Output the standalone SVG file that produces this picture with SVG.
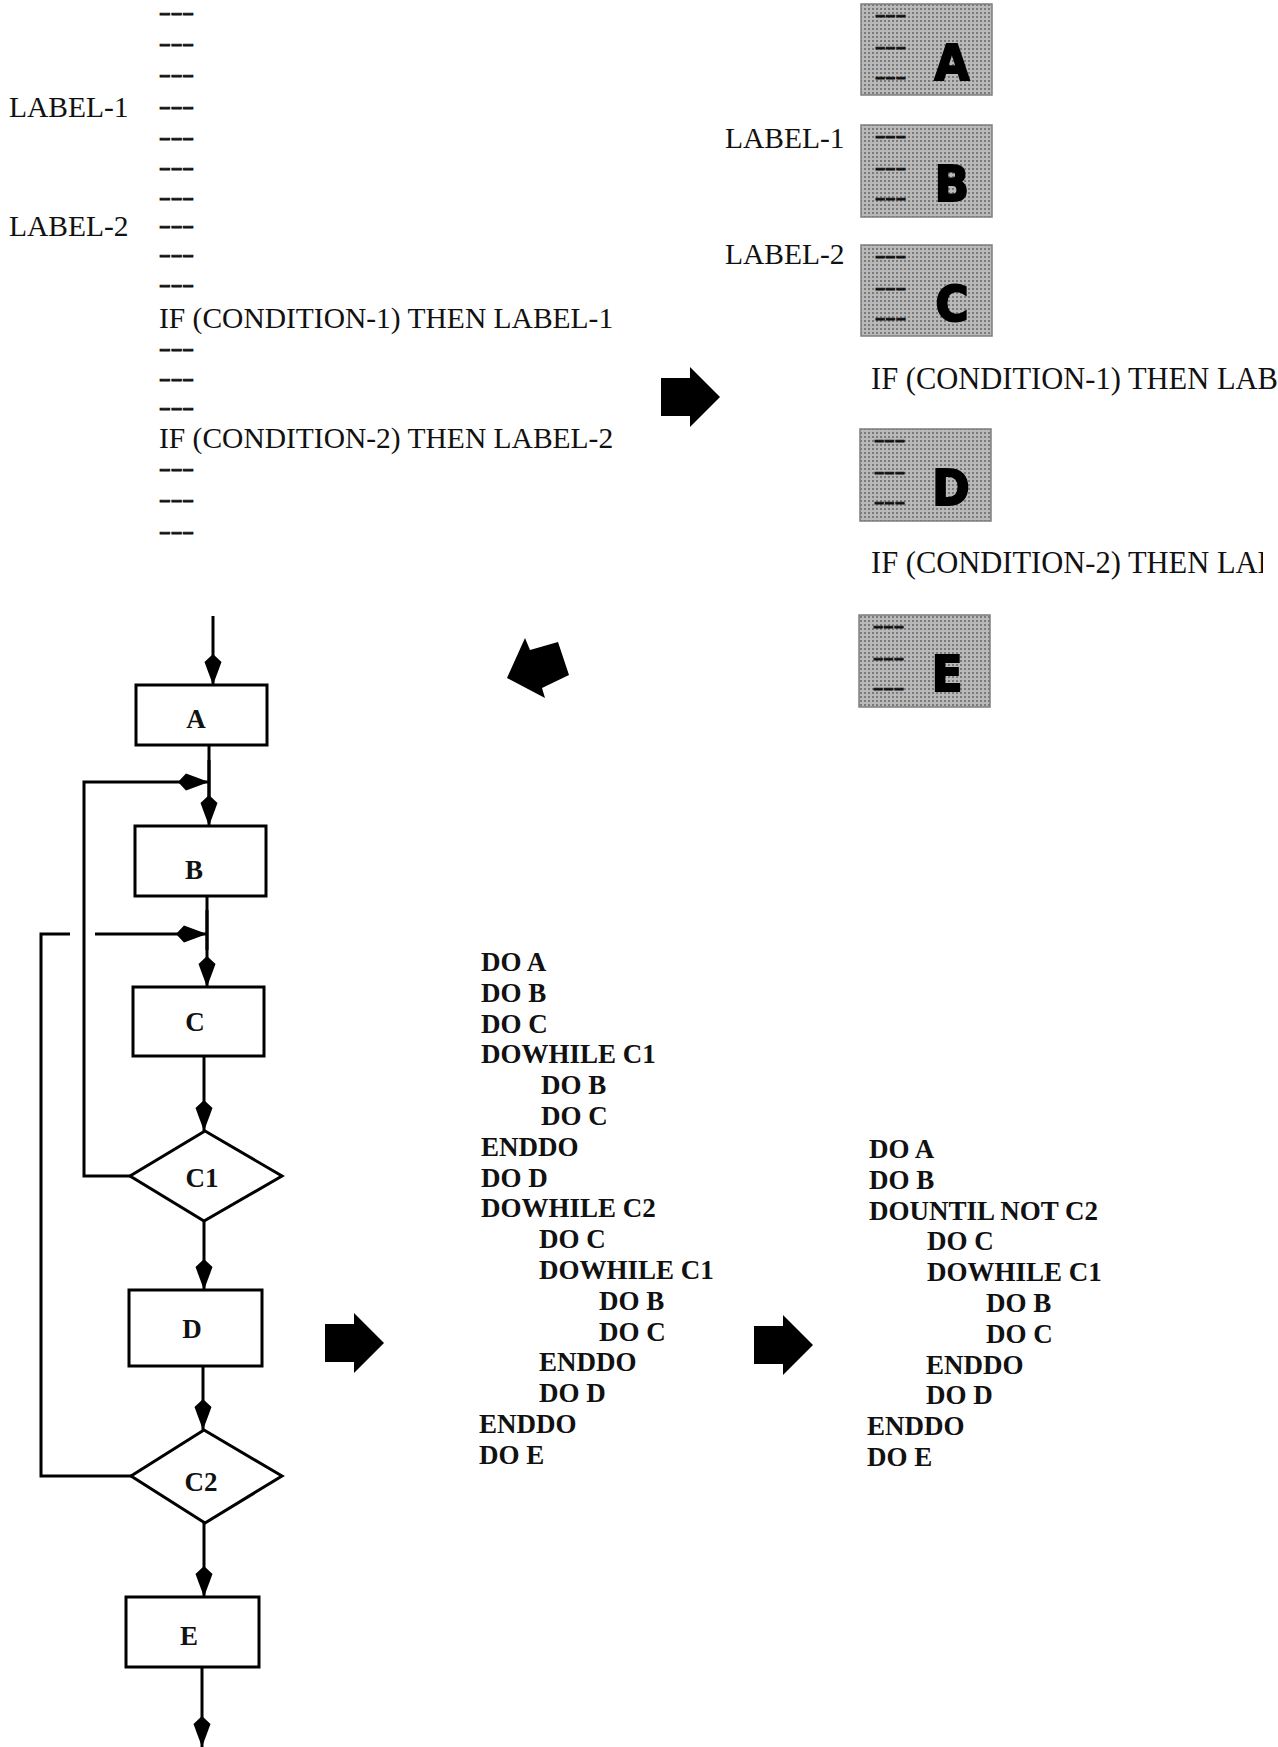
<svg xmlns="http://www.w3.org/2000/svg" width="1278" height="1747" viewBox="0 0 1278 1747">
<style>
 .t{font-family:"Liberation Serif","Times New Roman",serif;font-size:29.5px;fill:#111}
 .d{font-family:"Liberation Serif","Times New Roman",serif;font-size:20px;font-weight:bold;fill:#111;stroke:#111;stroke-width:0.8}
 .c{font-family:"Liberation Serif","Times New Roman",serif;font-size:27px;font-weight:bold;fill:#111}
 .fl{font-family:"Liberation Serif","Times New Roman",serif;font-size:27px;font-weight:bold;fill:#111;text-anchor:middle}
 .big{font-family:"DejaVu Sans Condensed","DejaVu Sans",sans-serif;font-size:50px;font-weight:bold;fill:#000;stroke:#000;stroke-width:2;text-anchor:middle}
 .bx{fill:url(#ht);stroke:#7e7e7e;stroke-width:1.5}
 .nd{fill:#fff;stroke:#000;stroke-width:3}
 .ln{fill:none;stroke:#000;stroke-width:3}
 .ar{fill:none;stroke:#000;stroke-width:3;marker-end:url(#kite)}
 .blk{fill:#000}
</style>
<defs>
 <pattern id="ht" width="4" height="4" patternUnits="userSpaceOnUse">
  <rect width="4" height="4" fill="#b9b9b9"/>
  <rect width="2" height="2" fill="#7a7a7a"/>
 </pattern>
 <marker id="kite" viewBox="-33 -10 34 20" markerWidth="34" markerHeight="20" refX="0" refY="0" markerUnits="userSpaceOnUse" orient="auto">
  <path d="M0,0 L-23,-8.5 L-31,0 L-23,8.5 Z" fill="#000"/>
 </marker>
 <path id="blkR" d="M0,11 H29 V0 L59,30 L29,60 V49 H0 Z"/>
 <clipPath id="clipIF2"><rect x="0" y="520" width="1263" height="80"/></clipPath>
</defs>

<g id="source-code">
 <text class="d" x="159" y="19" textLength="35" lengthAdjust="spacingAndGlyphs">---</text>
 <text class="d" x="159" y="50" textLength="35" lengthAdjust="spacingAndGlyphs">---</text>
 <text class="d" x="159" y="81" textLength="35" lengthAdjust="spacingAndGlyphs">---</text>
 <text class="t" x="9" y="117">LABEL-1</text>
 <text class="d" x="159" y="113" textLength="35" lengthAdjust="spacingAndGlyphs">---</text>
 <text class="d" x="159" y="144" textLength="35" lengthAdjust="spacingAndGlyphs">---</text>
 <text class="d" x="159" y="174" textLength="35" lengthAdjust="spacingAndGlyphs">---</text>
 <text class="d" x="159" y="204" textLength="35" lengthAdjust="spacingAndGlyphs">---</text>
 <text class="t" x="9" y="236">LABEL-2</text>
 <text class="d" x="159" y="232" textLength="35" lengthAdjust="spacingAndGlyphs">---</text>
 <text class="d" x="159" y="261" textLength="35" lengthAdjust="spacingAndGlyphs">---</text>
 <text class="d" x="159" y="291" textLength="35" lengthAdjust="spacingAndGlyphs">---</text>
 <text class="t" x="159" y="328">IF (CONDITION-1) THEN LABEL-1</text>
 <text class="d" x="159" y="355" textLength="35" lengthAdjust="spacingAndGlyphs">---</text>
 <text class="d" x="159" y="385" textLength="35" lengthAdjust="spacingAndGlyphs">---</text>
 <text class="d" x="159" y="414" textLength="35" lengthAdjust="spacingAndGlyphs">---</text>
 <text class="t" x="159" y="448">IF (CONDITION-2) THEN LABEL-2</text>
 <text class="d" x="159" y="475" textLength="35" lengthAdjust="spacingAndGlyphs">---</text>
 <text class="d" x="159" y="506" textLength="35" lengthAdjust="spacingAndGlyphs">---</text>
 <text class="d" x="159" y="538" textLength="35" lengthAdjust="spacingAndGlyphs">---</text>
</g>

<g id="block-A">
 <rect class="bx" x="861" y="4" width="131" height="91"/>
 <text class="d" x="875" y="21" textLength="31" lengthAdjust="spacingAndGlyphs">---</text>
 <text class="d" x="875" y="53" textLength="31" lengthAdjust="spacingAndGlyphs">---</text>
 <text class="d" x="875" y="83" textLength="31" lengthAdjust="spacingAndGlyphs">---</text>
 <text class="big" x="952" y="80">A</text>
</g>
<g id="block-B">
 <text class="t" x="725" y="148">LABEL-1</text>
 <rect class="bx" x="861" y="125" width="131" height="92"/>
 <text class="d" x="875" y="142" textLength="31" lengthAdjust="spacingAndGlyphs">---</text>
 <text class="d" x="875" y="174" textLength="31" lengthAdjust="spacingAndGlyphs">---</text>
 <text class="d" x="875" y="204" textLength="31" lengthAdjust="spacingAndGlyphs">---</text>
 <text class="big" x="952" y="201">B</text>
</g>
<g id="block-C">
 <text class="t" x="725" y="264">LABEL-2</text>
 <rect class="bx" x="861" y="245" width="131" height="91"/>
 <text class="d" x="875" y="262" textLength="31" lengthAdjust="spacingAndGlyphs">---</text>
 <text class="d" x="875" y="294" textLength="31" lengthAdjust="spacingAndGlyphs">---</text>
 <text class="d" x="875" y="324" textLength="31" lengthAdjust="spacingAndGlyphs">---</text>
 <text class="big" x="952" y="321">C</text>
</g>
<g id="if-1-right">
 <text class="t" x="871" y="389" style="font-size:30.5px">IF (CONDITION-1) THEN LAB</text>
</g>
<g id="block-D">
 <rect class="bx" x="860" y="429" width="131" height="92"/>
 <text class="d" x="874" y="446" textLength="31" lengthAdjust="spacingAndGlyphs">---</text>
 <text class="d" x="874" y="478" textLength="31" lengthAdjust="spacingAndGlyphs">---</text>
 <text class="d" x="874" y="508" textLength="31" lengthAdjust="spacingAndGlyphs">---</text>
 <text class="big" x="951" y="505">D</text>
</g>
<g id="if-2-right">
 <text class="t" x="871" y="573" style="font-size:30.5px" clip-path="url(#clipIF2)">IF (CONDITION-2) THEN LAB</text>
</g>
<g id="block-E">
 <rect class="bx" x="859" y="615" width="131" height="92"/>
 <text class="d" x="873" y="632" textLength="31" lengthAdjust="spacingAndGlyphs">---</text>
 <text class="d" x="873" y="664" textLength="31" lengthAdjust="spacingAndGlyphs">---</text>
 <text class="d" x="873" y="694" textLength="31" lengthAdjust="spacingAndGlyphs">---</text>
 <text class="big" x="947" y="691">E</text>
</g>

<g id="block-arrows">
 <use href="#blkR" class="blk" transform="translate(661,367)"/>
 <polygon class="blk" points="507,678 525,638 530,650 558,642 569,675 542,688 545,698"/>
 <use href="#blkR" class="blk" transform="translate(325,1313)"/>
 <use href="#blkR" class="blk" transform="translate(754,1315)"/>
</g>

<g id="connectors">
 <path class="ar" d="M213,616 V685"/>
 <path class="ln" d="M209,745 V800"/>
 <path class="ar" d="M209,760 V826"/>
 <path class="ar" d="M130,1176 H84 V782 H209"/>
 <path class="ln" d="M207,896 V950"/>
 <path class="ar" d="M207,910 V987"/>
 <path class="ar" d="M131,1476 H41 V934 H70 M95,934 H207"/>
 <path class="ar" d="M204,1056 V1131"/>
 <path class="ar" d="M204,1221 V1290"/>
 <path class="ar" d="M203,1366 V1430"/>
 <path class="ar" d="M204,1523 V1597"/>
 <path class="ar" d="M202,1667 V1747"/>
</g>

<g id="node-A">
 <rect class="nd" x="136" y="685" width="131" height="60"/>
 <text class="fl" x="196" y="728">A</text>
</g>
<g id="node-B">
 <rect class="nd" x="135" y="826" width="131" height="70"/>
 <text class="fl" x="194" y="879">B</text>
</g>
<g id="node-C">
 <rect class="nd" x="133" y="987" width="131" height="69"/>
 <text class="fl" x="195" y="1031">C</text>
</g>
<g id="node-C1">
 <polygon class="nd" points="205,1131 282,1176 204,1221 130,1176"/>
 <text class="fl" x="202" y="1187">C1</text>
</g>
<g id="node-D">
 <rect class="nd" x="129" y="1290" width="133" height="76"/>
 <text class="fl" x="192" y="1338">D</text>
</g>
<g id="node-C2">
 <polygon class="nd" points="204,1430 282,1476 205,1523 131,1476"/>
 <text class="fl" x="201" y="1491">C2</text>
</g>
<g id="node-E">
 <rect class="nd" x="126" y="1597" width="133" height="70"/>
 <text class="fl" x="189" y="1645">E</text>
</g>

<g id="structured-code-1">
 <text class="c" x="481" y="971">DO A</text>
 <text class="c" x="481" y="1001.8">DO B</text>
 <text class="c" x="481" y="1032.6">DO C</text>
 <text class="c" x="481" y="1063.4">DOWHILE C1</text>
 <text class="c" x="541" y="1094.2">DO B</text>
 <text class="c" x="541" y="1125">DO C</text>
 <text class="c" x="481" y="1155.8">ENDDO</text>
 <text class="c" x="481" y="1186.6">DO D</text>
 <text class="c" x="481" y="1217.4">DOWHILE C2</text>
 <text class="c" x="539" y="1248.2">DO C</text>
 <text class="c" x="539" y="1279">DOWHILE C1</text>
 <text class="c" x="599" y="1309.8">DO B</text>
 <text class="c" x="599" y="1340.6">DO C</text>
 <text class="c" x="539" y="1371.4">ENDDO</text>
 <text class="c" x="539" y="1402.2">DO D</text>
 <text class="c" x="479" y="1433">ENDDO</text>
 <text class="c" x="479" y="1463.8">DO E</text>
</g>

<g id="structured-code-2">
 <text class="c" x="869" y="1158">DO A</text>
 <text class="c" x="869" y="1188.8">DO B</text>
 <text class="c" x="869" y="1219.6">DOUNTIL NOT C2</text>
 <text class="c" x="927" y="1250.4">DO C</text>
 <text class="c" x="927" y="1281.2">DOWHILE C1</text>
 <text class="c" x="986" y="1312">DO B</text>
 <text class="c" x="986" y="1342.8">DO C</text>
 <text class="c" x="926" y="1373.6">ENDDO</text>
 <text class="c" x="926" y="1404.4">DO D</text>
 <text class="c" x="867" y="1435.2">ENDDO</text>
 <text class="c" x="867" y="1466">DO E</text>
</g>
</svg>
